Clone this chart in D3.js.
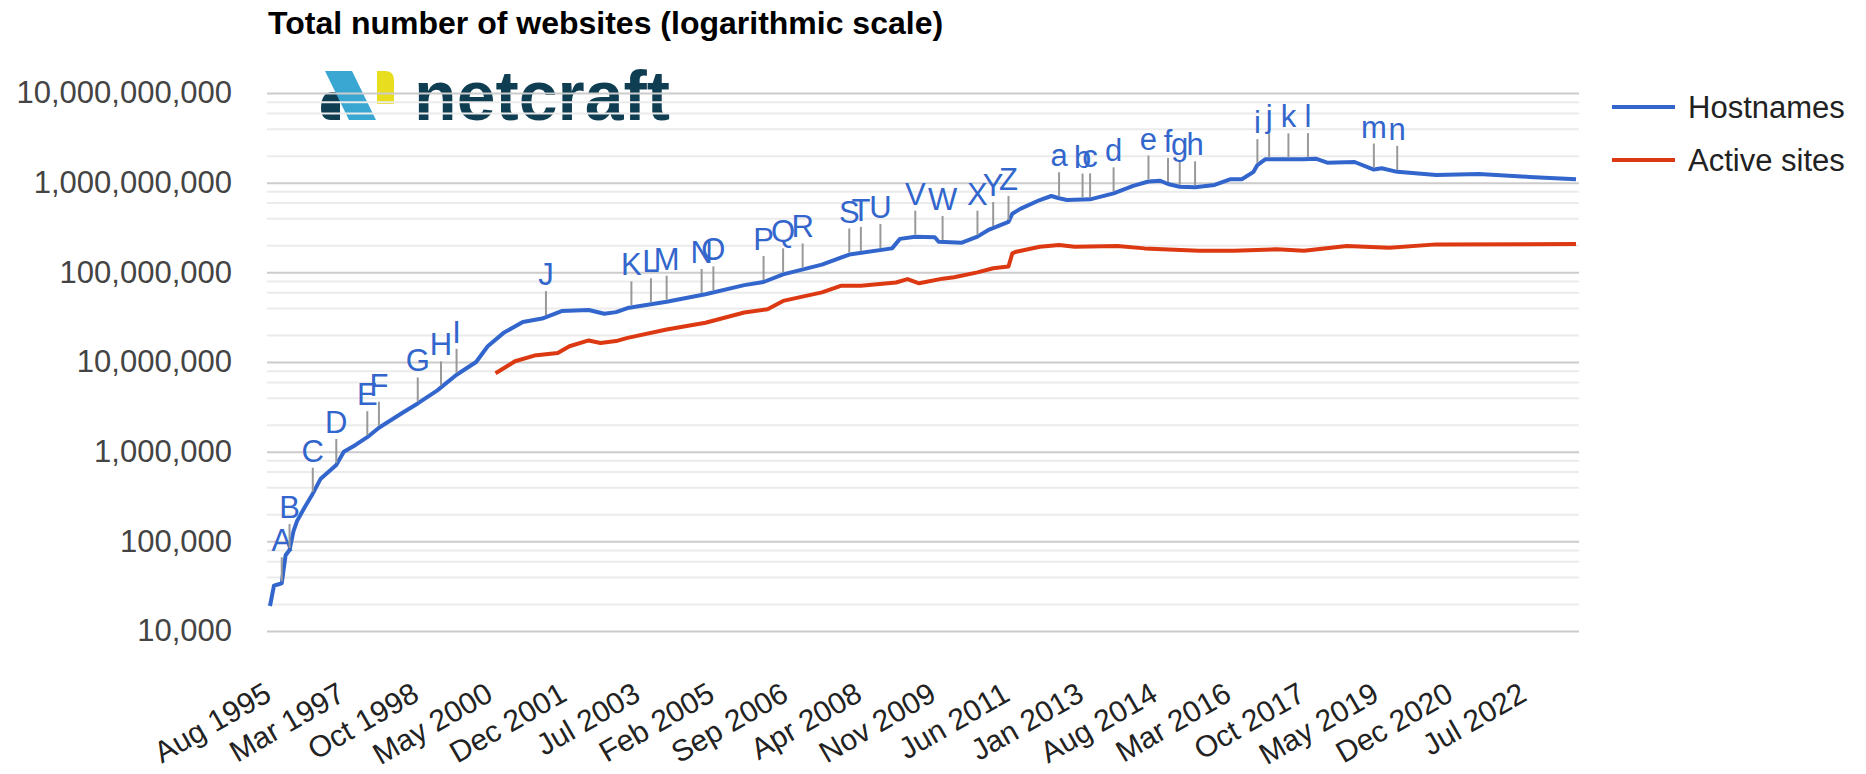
<!DOCTYPE html>
<html>
<head>
<meta charset="utf-8">
<title>Total number of websites (logarithmic scale)</title>
<script src="https://d3js.org/d3.v7.min.js"></script>
<style>
  html, body { margin: 0; padding: 0; background: #fff; }
  svg { display: block; font-family: 'Liberation Sans', Arial, sans-serif; }
</style>
</head>
<body>
<div id="chart"></div>
<script>
// monthly survey readings, [month, count]
const hostnames = [
  ['1995-08', 19000], ['1995-09', 32000], ['1995-10', 33000], ['1995-11', 34000],
  ['1995-12', 70000], ['1996-01', 80000], ['1996-02', 130000], ['1996-03', 170000],
  ['1996-05', 243000], ['1996-07', 340000], ['1996-09', 500000], ['1997-01', 710000],
  ['1997-03', 1000000], ['1997-06', 1190000], ['1997-09', 1450000], ['1997-12', 1850000],
  ['1998-06', 2700000], ['1998-10', 3450000], ['1999-03', 4800000], ['1999-08', 7200000],
  ['2000-01', 10000000], ['2000-04', 15000000], ['2000-08', 21000000], ['2001-01', 28000000],
  ['2001-06', 30500000], ['2001-11', 37000000], ['2002-06', 38000000], ['2002-10', 34500000],
  ['2003-01', 36000000], ['2003-04', 40000000], ['2004-02', 47000000], ['2004-12', 57000000],
  ['2005-10', 72000000], ['2006-03', 78000000], ['2006-08', 95000000], ['2007-06', 122000000],
  ['2008-01', 158000000], ['2008-12', 185000000], ['2009-02', 236000000], ['2009-06', 250000000],
  ['2009-11', 246000000], ['2009-12', 219000000], ['2010-06', 214000000], ['2010-10', 250000000],
  ['2011-01', 300000000], ['2011-06', 365000000], ['2011-07', 450000000], ['2011-09', 510000000],
  ['2012-02', 640000000], ['2012-05', 710000000], ['2012-07', 670000000], ['2012-09', 640000000],
  ['2013-03', 652000000], ['2013-09', 760000000], ['2014-02', 920000000], ['2014-06', 1030000000],
  ['2014-09', 1050000000], ['2014-11', 966000000], ['2015-02', 900000000], ['2015-06', 887000000],
  ['2015-11', 942000000], ['2016-03', 1090000000], ['2016-06', 1090000000], ['2016-09', 1320000000],
  ['2016-10', 1570000000], ['2016-12', 1820000000], ['2017-05', 1820000000], ['2017-10', 1820000000],
  ['2018-01', 1850000000], ['2018-04', 1670000000], ['2018-11', 1700000000], ['2019-04', 1400000000],
  ['2019-06', 1450000000], ['2019-10', 1320000000], ['2020-08', 1220000000], ['2021-07', 1250000000],
  ['2022-08', 1160000000], ['2023-08', 1090000000]
];

const activeSites = [
  ['2000-06', 7500000], ['2000-11', 10200000], ['2001-04', 11800000], ['2001-10', 12600000],
  ['2002-01', 15000000], ['2002-06', 17400000], ['2002-09', 16300000], ['2003-01', 17100000],
  ['2003-04', 18600000], ['2004-02', 23000000], ['2004-12', 27400000], ['2005-10', 35600000],
  ['2006-04', 38800000], ['2006-08', 48000000], ['2007-06', 59700000], ['2007-11', 71000000],
  ['2008-04', 71000000], ['2009-01', 77000000], ['2009-04', 84000000], ['2009-07', 75500000],
  ['2010-01', 85000000], ['2010-04', 88000000], ['2010-10', 100000000], ['2011-02', 111000000],
  ['2011-06', 116000000], ['2011-07', 163000000], ['2011-08', 170000000], ['2012-02', 193000000],
  ['2012-07', 202000000], ['2012-11', 193000000], ['2013-10', 197000000], ['2014-05', 185000000],
  ['2015-07', 174000000], ['2016-04', 174000000], ['2017-03', 181000000], ['2017-10', 174000000],
  ['2018-09', 197000000], ['2019-08', 188000000], ['2020-08', 205000000], ['2023-08', 207000000]
];

// event markers on the hostnames line
const annotationLabels = 'ABCDEFGHIJKLMNOPQRSTUVWXYZabcdefghijklmn'.split('');
const annotationDates = [
  '1995-11', '1996-01', '1996-07', '1997-01', '1997-09', '1997-12', '1998-10', '1999-04',
  '1999-08', '2001-07', '2003-05', '2003-10', '2004-02', '2004-11', '2005-02', '2006-03',
  '2006-08', '2007-01', '2008-01', '2008-04', '2008-09', '2009-06', '2010-01', '2010-10',
  '2011-02', '2011-06', '2012-07', '2013-01', '2013-03', '2013-09', '2014-06', '2014-11',
  '2015-02', '2015-06', '2016-10', '2017-01', '2017-06', '2017-11', '2019-04', '2019-10'
];

const xTickLabels = [
  'Aug 1995', 'Mar 1997', 'Oct 1998', 'May 2000', 'Dec 2001', 'Jul 2003', 'Feb 2005',
  'Sep 2006', 'Apr 2008', 'Nov 2009', 'Jun 2011', 'Jan 2013', 'Aug 2014', 'Mar 2016',
  'Oct 2017', 'May 2019', 'Dec 2020', 'Jul 2022'
];
const yTickValues = [1e4, 1e5, 1e6, 1e7, 1e8, 1e9, 1e10];
const seriesNames = ['Hostnames', 'Active sites'];
const seriesColors = ['#3366cc', '#dc3912'];

const width = 1866;
const height = 774;
const plot = { left: 267, right: 1579, top: 93, bottom: 631 };

const parseMonth = d3.timeParse('%Y-%m');
const parseTick = d3.timeParse('%b %Y');

const toPoints = rows => rows.map(r => ({ date: parseMonth(r[0]), value: r[1] }));
const hostPoints = toPoints(hostnames);
const activePoints = toPoints(activeSites);

const svg = d3.select('#chart')
  .append('svg')
  .attr('width', width)
  .attr('height', height);

const x = d3.scaleTime()
  .domain([parseMonth('1995-08'), parseMonth('2023-08')])
  .range([270, 1576]);

const y = d3.scaleLog()
  .domain([1e4, 1e10])
  .range([plot.bottom, plot.top]);

// netcraft logo (sits behind the gridlines)
const logo = svg.append('g').attr('class', 'logo');
logo.append('path')
  .attr('d', 'M340,92 L340,120 L331,120 Q321,120 321,108 Q321,92 333,92 Z')
  .attr('fill', '#0f3d52');
logo.append('path')
  .attr('d', 'M325,71 L352,71 L376,120 L349,120 Z')
  .attr('fill', '#3aa7d3');
logo.append('path')
  .attr('d', 'M377,71 L385,71 Q394,71 394,80 L394,104 L377,104 Z')
  .attr('fill', '#e8dd1f');
logo.append('text')
  .attr('x', 414)
  .attr('y', 120)
  .attr('font-size', 70)
  .attr('font-weight', 'bold')
  .attr('textLength', 256)
  .attr('lengthAdjust', 'spacingAndGlyphs')
  .attr('fill', '#0f3d52')
  .text('netcraft');

// minor gridlines at 2, 4, 6, 8 of each decade
const minorValues = [];
yTickValues.slice(0, -1).forEach(d => [2, 4, 6, 8].forEach(m => minorValues.push(d * m)));

svg.append('g')
  .attr('class', 'minor-grid')
  .attr('transform', `translate(${plot.left},0)`)
  .call(d3.axisLeft(y).tickValues(minorValues).tickSize(-(plot.right - plot.left)).tickFormat(''))
  .call(g => g.select('.domain').remove())
  .call(g => g.selectAll('line').attr('stroke', '#ebebeb').attr('stroke-width', 2));

svg.append('g')
  .attr('class', 'major-grid')
  .attr('transform', `translate(${plot.left},0)`)
  .call(d3.axisLeft(y).tickValues(yTickValues).tickSize(-(plot.right - plot.left)).tickFormat(''))
  .call(g => g.select('.domain').remove())
  .call(g => g.selectAll('line').attr('stroke', '#cccccc').attr('stroke-width', 2));

// y axis labels
svg.append('g')
  .attr('transform', 'translate(232,0)')
  .call(d3.axisLeft(y).tickValues(yTickValues).tickFormat(d3.format(',')).tickSize(0).tickPadding(0))
  .call(g => g.select('.domain').remove())
  .call(g => g.selectAll('text')
    .attr('font-size', 31)
    .attr('font-family', "'Liberation Sans', Arial, sans-serif")
    .attr('fill', '#444'));

// x axis labels, slanted
svg.append('g')
  .attr('transform', 'translate(0,701)')
  .call(d3.axisBottom(x).tickValues(xTickLabels.map(parseTick)).tickFormat(d3.timeFormat('%b %Y')).tickSize(0))
  .call(g => g.select('.domain').remove())
  .call(g => g.selectAll('text')
    .attr('font-size', 30)
    .attr('font-family', "'Liberation Sans', Arial, sans-serif")
    .attr('fill', '#222')
    .attr('text-anchor', 'end')
    .attr('x', 3)
    .attr('y', 0)
    .attr('dy', 0)
    .attr('transform', 'rotate(-30)'));

// series lines
const line = d3.line()
  .x(d => x(d.date))
  .y(d => y(d.value));

svg.append('path')
  .datum(activePoints)
  .attr('d', line)
  .attr('fill', 'none')
  .attr('stroke', seriesColors[1])
  .attr('stroke-width', 4)
  .attr('stroke-linejoin', 'round');

svg.append('path')
  .datum(hostPoints)
  .attr('d', line)
  .attr('fill', 'none')
  .attr('stroke', seriesColors[0])
  .attr('stroke-width', 4)
  .attr('stroke-linejoin', 'round');

// annotations sit on the hostnames line
const bisect = d3.bisector(d => d.date).left;
function hostValueAt(date) {
  const i = bisect(hostPoints, date);
  if (i <= 0) return hostPoints[0].value;
  if (i >= hostPoints.length) return hostPoints[hostPoints.length - 1].value;
  const a = hostPoints[i - 1];
  const b = hostPoints[i];
  const t = (date - a.date) / (b.date - a.date);
  return Math.pow(10, Math.log10(a.value) + t * (Math.log10(b.value) - Math.log10(a.value)));
}

const annotations = annotationLabels.map((label, i) => {
  const date = parseMonth(annotationDates[i]);
  return { label, date, value: hostValueAt(date) };
});

const stemLength = 26;
const ann = svg.append('g').attr('class', 'annotations')
  .selectAll('g')
  .data(annotations)
  .enter()
  .append('g');

ann.append('line')
  .attr('x1', d => x(d.date))
  .attr('x2', d => x(d.date))
  .attr('y1', d => y(d.value) - 2)
  .attr('y2', d => y(d.value) - stemLength)
  .attr('stroke', '#999')
  .attr('stroke-width', 2);

ann.append('text')
  .attr('x', d => x(d.date))
  .attr('y', d => y(d.value) - stemLength - 6)
  .attr('text-anchor', 'middle')
  .attr('font-size', 31)
  .attr('fill', seriesColors[0])
  .text(d => d.label);

// title
svg.append('text')
  .attr('x', 268)
  .attr('y', 34)
  .attr('font-size', 32)
  .attr('font-weight', 'bold')
  .attr('fill', '#000')
  .text('Total number of websites (logarithmic scale)');

// legend
const legend = svg.append('g')
  .selectAll('g')
  .data(seriesNames)
  .enter()
  .append('g')
  .attr('transform', (d, i) => `translate(1612,${107 + i * 53})`);

legend.append('line')
  .attr('x1', 0)
  .attr('x2', 63)
  .attr('stroke', (d, i) => seriesColors[i])
  .attr('stroke-width', 4);

legend.append('text')
  .attr('x', 76)
  .attr('dy', '0.35em')
  .attr('font-size', 31)
  .attr('fill', '#222')
  .text(d => d);
</script>
</body>
</html>
